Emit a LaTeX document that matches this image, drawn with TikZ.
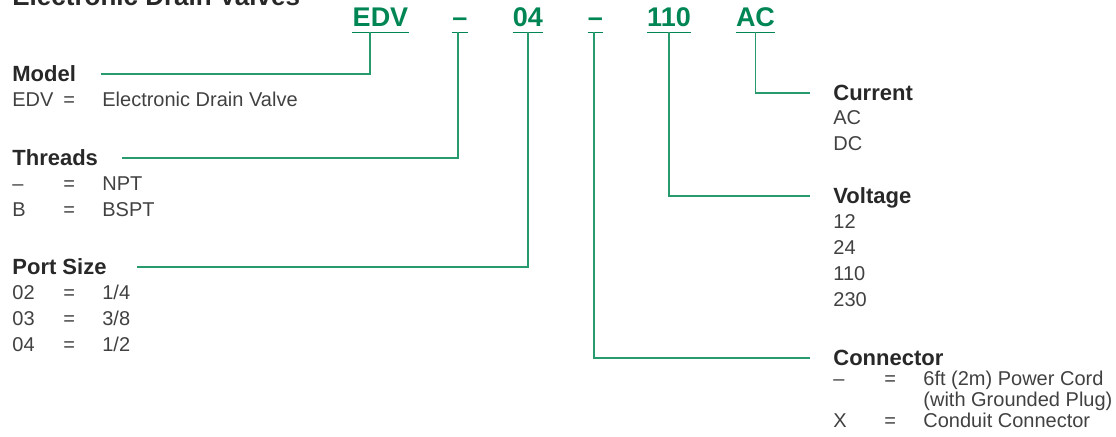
\documentclass[tikz,border=0pt]{standalone}
\usepackage{fontspec}
\setmainfont{Liberation Sans}
\definecolor{greenCode}{RGB}{0,133,84}
\definecolor{greenLine}{RGB}{40,155,110}
\definecolor{greyHead}{RGB}{40,40,40}
\definecolor{greyText}{RGB}{65,65,65}
\newcommand{\optlist}[1]{\begin{tabular}[t]{@{}p{25.5pt}@{}p{19.5pt}@{}l@{}}#1\end{tabular}}

\begin{document}
\begin{tikzpicture}[
    x=0.5pt, y=-0.5pt,
    code/.style={inner sep=0pt, text depth=2.5pt, anchor=base, text=greenCode, font=\fontsize{13.5pt}{16pt}\selectfont\bfseries},
    head/.style={inner sep=0pt, text height=7.9pt, text depth=0pt, anchor=base west, text=greyHead, font=\fontsize{11pt}{13pt}\selectfont\bfseries},
    item/.style={inner sep=0pt, anchor=base west, text=greyText, font=\fontsize{10pt}{13pt}\selectfont},
    link/.style={draw=greenLine, line width=0.7pt},
    uline/.style={draw=greenCode, line width=0.8pt}
]
    \clip (0,0) rectangle (1116,437);

    % Titel und Bestellcode
    \node[anchor=base west, inner sep=0pt, text=greyHead, font=\fontsize{13pt}{16pt}\selectfont\bfseries] (title) at (12,5.5) {Electronic Drain Valves};
    \node[code] (cModel) at (380.5,27) {EDV};
    \node[code] (cThread) at (460,27) {--};
    \node[code] (cPort) at (528,27) {04};
    \node[code] (cConn) at (595.5,27) {--};
    \node[code] (cVolt) at (669,27) {110};
    \node[code] (cCurr) at (755.5,27) {AC};
    \foreach \n in {cModel,cThread,cPort,cConn,cVolt,cCurr}
        \draw[uline] (\n.south west) -- (\n.south east);

    % Rubriken
    \node[head] (model) at (12,82) {Model};
    \node[head] (threads) at (12,166) {Threads};
    \node[head] (port) at (12,275) {Port Size};
    \node[head] (current) at (833,101) {Current};
    \node[head] (voltage) at (833,204) {Voltage};
    \node[head] (connector) at (833,366) {Connector};

    % Optionen
    \node[item] (lModel) at (12,107) {\optlist{EDV & = & Electronic Drain Valve}};
    \node[item] (lThreads) at (12,191) {\optlist{-- & = & NPT\\ B & = & BSPT}};
    \node[item] (lPort) at (12,300) {\optlist{02 & = & 1/4\\ 03 & = & 3/8\\ 04 & = & 1/2}};
    \node[item] (lCurrent) at (833,125) {\begin{tabular}[t]{@{}l@{}}AC\\ DC\end{tabular}};
    \node[item] (lVoltage) at (833,229) {\begin{tabular}[t]{@{}l@{}}12\\ 24\\ 110\\ 230\end{tabular}};
    \node[item, font=\fontsize{10pt}{10.25pt}\selectfont] (lConnector) at (833,386) {\optlist{-- & = & 6ft (2m) Power Cord\\ & & (with Grounded Plug)\\ X & = & Conduit Connector}};

    % Verbindungslinien
    \draw[link] ([xshift=-5.25pt]cModel.south) |- ([xshift=12.5pt]model.east);
    \draw[link] ([xshift=-1pt]cThread.south) |- ([xshift=12pt]threads.east);
    \draw[link] (cPort.south) |- ([xshift=15pt]port.east);
    \draw[link] ([xshift=-0.75pt]cConn.south) |- ([xshift=-11.5pt]connector.west);
    \draw[link] (cVolt.south) |- ([xshift=-11.5pt]voltage.west);
    \draw[link] (cCurr.south) |- ([xshift=-11.5pt]current.west);
\end{tikzpicture}
\end{document}
